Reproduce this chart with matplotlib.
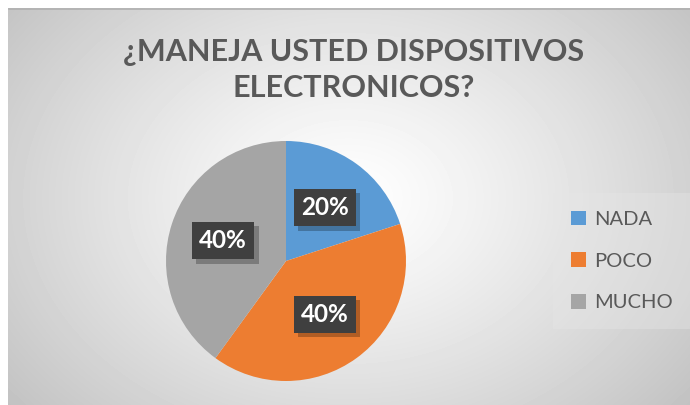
import numpy as np
import matplotlib.pyplot as plt
import matplotlib.patheffects as pe
from matplotlib.patches import Patch

# datos
categorias = ['NADA', 'POCO', 'MUCHO']
valores = [20, 40, 40]
colores = ['#5B9BD5', '#ED7D31', '#A5A5A5']
titulo = '¿MANEJA USTED DISPOSITIVOS\nELECTRONICOS?'

W, H = 690, 405
fig = plt.figure(figsize=(W / 100, H / 100), dpi=100)
fig.patch.set_facecolor('white')

# fondo con degradado radial (estilo Excel)
bg = fig.add_axes([8 / W, 0, 1 - 8 / W, 1 - 8 / H])
bg.set_axis_off()
yy, xx = np.mgrid[0:397, 0:682]
cx, cy = 340, 190
d = np.sqrt(((xx - cx) / 400.0) ** 2 + ((yy - cy) / 300.0) ** 2)
d = np.clip(d / d.max(), 0, 1)
gris = 1.0 - 0.24 * d ** 1.2
bg.imshow(gris, cmap='gray', vmin=0, vmax=1, aspect='auto', interpolation='bilinear')
bg.plot([0, 681], [0.5, 0.5], color='#b0b0b0', lw=1.2)

fig.text(0.513, 1 - 70 / H, titulo, ha='center', va='center', fontsize=22,
         fontweight='bold', color='#595959', family='Lato', linespacing=1.33)

# pastel
cxp, cyp, r = 286, 261, 120
ax = fig.add_axes([(cxp - r) / W, 1 - (cyp + r) / H, 2 * r / W, 2 * r / H])
ax.set_facecolor('none')
wedges, textos, pcts = ax.pie(valores, colors=colores, startangle=90, counterclock=False,
                              autopct='%1.0f%%', pctdistance=0.55, radius=1.0,
                              textprops=dict(color='white', fontsize=17.5, fontweight='bold',
                                             family='Lato'))
for t in pcts:
    t.set_bbox(dict(boxstyle='square,pad=0.3', facecolor='#3f3f3f', edgecolor='none'))
    t.get_bbox_patch().set_path_effects([
        pe.SimplePatchShadow(offset=(3, -3), shadow_rgbFace='black', alpha=0.25),
        pe.Normal()])
ax.set_xlim(-1, 1)
ax.set_ylim(-1, 1)

# leyenda
handles = [Patch(facecolor=c, edgecolor='none') for c in colores]
leg = fig.legend(handles, categorias, loc='center', bbox_to_anchor=(622 / W, 1 - 261 / H),
                 frameon=True, labelspacing=1.2, handlelength=0.75,
                 handleheight=0.75, handletextpad=0.4, borderpad=0.9, fancybox=False,
                 prop=dict(family='Lato', size=14.5))
leg.get_frame().set_facecolor('#e6e6e6')
leg.get_frame().set_edgecolor('none')
leg.get_frame().set_alpha(0.4)
for t in leg.get_texts():
    t.set_color('#595959')

fig.savefig('out.png', dpi=100)
